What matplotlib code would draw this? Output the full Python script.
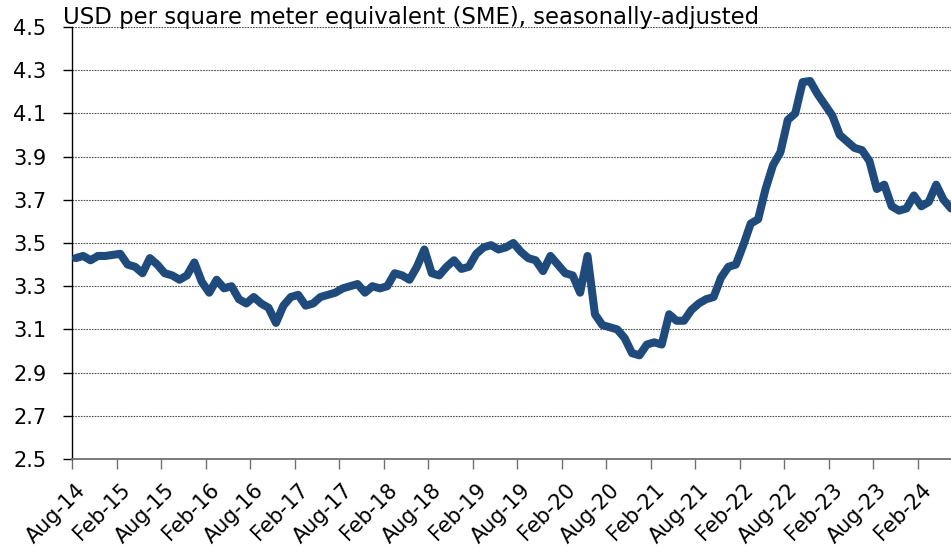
import matplotlib
matplotlib.use("Agg")
import matplotlib.pyplot as plt
import numpy as np
import pandas as pd

# monthly price, Aug-14 .. Jun-24
start_month = "2014-08-01"
price = [
    3.43, 3.44, 3.42, 3.44, 3.44, 3.445, 3.45, 3.40, 3.39, 3.36, 3.43, 3.40,
    3.36, 3.35, 3.33, 3.35, 3.41, 3.32, 3.27, 3.33, 3.29, 3.30, 3.24, 3.22,
    3.25, 3.22, 3.20, 3.13, 3.21, 3.25, 3.26, 3.21, 3.22, 3.25, 3.26, 3.27,
    3.29, 3.30, 3.31, 3.27, 3.30, 3.29, 3.30, 3.36, 3.35, 3.33, 3.39, 3.47,
    3.36, 3.35, 3.39, 3.42, 3.38, 3.39, 3.45, 3.48, 3.49, 3.47, 3.48, 3.50,
    3.46, 3.43, 3.42, 3.37, 3.44, 3.40, 3.36, 3.35, 3.27, 3.44, 3.17, 3.12,
    3.11, 3.10, 3.06, 2.99, 2.98, 3.03, 3.04, 3.03, 3.17, 3.14, 3.14, 3.19,
    3.22, 3.24, 3.25, 3.34, 3.39, 3.40, 3.49, 3.59, 3.61, 3.75, 3.86, 3.92,
    4.07, 4.10, 4.245, 4.25, 4.19, 4.14, 4.09, 4.00, 3.97, 3.94, 3.93, 3.88,
    3.75, 3.77, 3.67, 3.65, 3.66, 3.72, 3.67, 3.69, 3.77, 3.70, 3.66,
]
y_ticks = [2.5, 2.7, 2.9, 3.1, 3.3, 3.5, 3.7, 3.9, 4.1, 4.3, 4.5]
title = "USD per square meter equivalent (SME), seasonally-adjusted"

months = pd.date_range(start_month, periods=len(price), freq="MS").strftime("%b-%y")
x = np.arange(len(price))

plt.rcParams["font.family"] = ["DejaVu Sans"]

fig = plt.figure(figsize=(9.51, 5.52), dpi=100)
W, H = 951, 552
ax = fig.add_axes([72 / W, 1 - 459 / H, 1 - 72 / W, (459 - 27) / H])

ax.plot(x, price, color="#1f4a7c", lw=5.8,
        solid_capstyle="round", solid_joinstyle="round", zorder=3)

ax.set_xlim(-0.5, 118.0)
ax.set_ylim(2.5, 4.5)

# y axis
ax.set_yticks(y_ticks)
ax.set_yticklabels([f"{v:.1f}" for v in y_ticks], fontsize=15)
ax.tick_params(axis="y", length=6.5, width=1, color="black", pad=12)
ax.yaxis.grid(True, linestyle=(0, (1.5, 1)), color="#505050", lw=0.8)

# x axis: tick marks between categories, labels on every 6th category
lab_pos = x[::6]
ax.set_xticks(lab_pos)
ax.set_xticklabels(months[::6], fontsize=15, rotation=45,
                   ha="right", va="top", rotation_mode="anchor")
ax.tick_params(axis="x", which="major", length=0, pad=15)
ax.set_xticks(np.arange(-0.5, len(price), 6), minor=True)
ax.tick_params(axis="x", which="minor", length=7, width=1, color="#707070")

for s in ["top", "right"]:
    ax.spines[s].set_visible(False)
ax.spines["left"].set_color("black")
ax.spines["left"].set_linewidth(1)
ax.spines["bottom"].set_color("#707070")
ax.spines["bottom"].set_linewidth(1.3)
ax.spines["bottom"].set_zorder(4)

fig.text(63 / W, 1 - 24 / H, title, fontsize=16.4, va="baseline", ha="left")

fig.savefig("out.png", dpi=100)
